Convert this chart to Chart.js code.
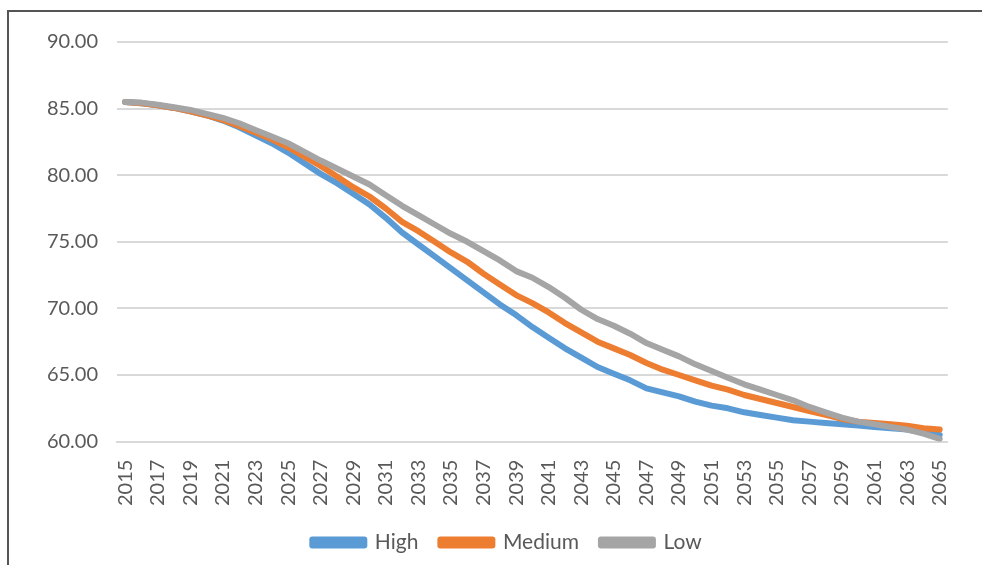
<!DOCTYPE html>
<html>
<head>
<meta charset="utf-8">
<script src="https://cdn.jsdelivr.net/npm/chart.js@4.4.1/dist/chart.umd.min.js"></script>
<style>
  body { margin: 0; background: #fff; }
  #frame { position: absolute; left: 7px; top: 10px; width: 1000px; height: 600px; border: 2px solid #555; }
  #wrap { position: absolute; left: 0; top: 0; width: 982px; height: 565px; }
</style>
</head>
<body>
<div id="frame"></div>
<div id="wrap"><canvas id="myChart"></canvas></div>
<script>
var years = ["2015", "2016", "2017", "2018", "2019", "2020", "2021", "2022", "2023", "2024",
    "2025", "2026", "2027", "2028", "2029", "2030", "2031", "2032", "2033", "2034",
    "2035", "2036", "2037", "2038", "2039", "2040", "2041", "2042", "2043", "2044",
    "2045", "2046", "2047", "2048", "2049", "2050", "2051", "2052", "2053", "2054",
    "2055", "2056", "2057", "2058", "2059", "2060", "2061", "2062", "2063", "2064", "2065"];

var highValues = [85.5, 85.4, 85.25, 85.05, 84.8, 84.5, 84.1, 83.6, 83.0, 82.4,
    81.7, 80.9, 80.1, 79.4, 78.6, 77.8, 76.8, 75.7, 74.8, 73.9,
    73.0, 72.1, 71.2, 70.3, 69.5, 68.6, 67.8, 67.0, 66.3, 65.6,
    65.1, 64.6, 64.0, 63.7, 63.4, 63.0, 62.7, 62.5, 62.2, 62.0,
    61.8, 61.6, 61.5, 61.4, 61.3, 61.2, 61.1, 61.0, 60.9, 60.7, 60.5];

var mediumValues = [85.5, 85.4, 85.25, 85.05, 84.8, 84.5, 84.15, 83.7, 83.2, 82.7,
    82.1, 81.4, 80.7, 79.9, 79.1, 78.4, 77.5, 76.5, 75.8, 75.0,
    74.2, 73.5, 72.6, 71.8, 71.0, 70.4, 69.7, 68.9, 68.2, 67.5,
    67.0, 66.5, 65.9, 65.4, 65.0, 64.6, 64.2, 63.9, 63.5, 63.2,
    62.9, 62.6, 62.3, 62.0, 61.7, 61.5, 61.4, 61.3, 61.2, 61.0, 60.9];

var lowValues = [85.5, 85.45, 85.3, 85.1, 84.9, 84.6, 84.3, 83.9, 83.4, 82.9,
    82.4, 81.75, 81.1, 80.5, 79.9, 79.3, 78.5, 77.7, 77.0, 76.3,
    75.6, 75.0, 74.3, 73.6, 72.8, 72.3, 71.6, 70.8, 69.9, 69.2,
    68.7, 68.1, 67.4, 66.9, 66.4, 65.8, 65.3, 64.8, 64.3, 63.9,
    63.5, 63.1, 62.6, 62.2, 61.8, 61.5, 61.3, 61.1, 60.9, 60.6, 60.2];

var seriesNames = ["High", "Medium", "Low"];
var seriesColors = ["#5b9bd5", "#ed7d31", "#a5a5a5"];

var yMin = 60, yMax = 90, yStep = 5;

function makeDataset(i, values) {
    return {
        label: seriesNames[i],
        data: values,
        borderColor: seriesColors[i],
        backgroundColor: seriesColors[i],
        borderWidth: 6,
        borderCapStyle: "round",
        borderJoinStyle: "round",
        pointRadius: 0,
        tension: 0,
        fill: false,
        order: 3 - i
    };
}

// nudge the legend right so it sits where the original one is
var legendShift = {
    id: "legendShift",
    afterLayout: function (chart) {
        chart.legend.left += 32;
        chart.legend.right += 32;
    }
};

new Chart("myChart", {
    type: "line",
    data: {
        labels: years,
        datasets: [
            makeDataset(0, highValues),
            makeDataset(1, mediumValues),
            makeDataset(2, lowValues)
        ]
    },
    plugins: [legendShift],
    options: {
        responsive: true,
        maintainAspectRatio: false,
        animation: false,
        layout: { padding: { top: 42, right: 32, bottom: 2, left: 0 } },
        plugins: {
            tooltip: { enabled: false },
            legend: {
                position: "bottom",
                labels: {
                    boxWidth: 52,
                    boxHeight: 6,
                    padding: 22,
                    color: "#595959",
                    font: { family: "Lato", size: 21 },
                    sort: function (a, b) { return a.datasetIndex - b.datasetIndex; }
                }
            }
        },
        scales: {
            x: {
                offset: true,
                grid: { display: false, drawTicks: false },
                border: { display: true, color: "#d9d9d9", width: 2 },
                afterFit: function (scale) { scale.height = scale.height - 14; },
                ticks: {
                    autoSkip: false,
                    maxRotation: 90,
                    minRotation: 90,
                    padding: 18,
                    color: "#595959",
                    font: { family: "Lato", size: 20 },
                    callback: function (value, index) {
                        return index % 2 === 0 ? years[index] : "";
                    }
                }
            },
            y: {
                min: yMin,
                max: yMax,
                grid: { color: "#d9d9d9", lineWidth: 2, drawTicks: false },
                border: { display: false },
                afterFit: function (scale) { scale.width = 117; },
                ticks: {
                    stepSize: yStep,
                    padding: 19,
                    color: "#595959",
                    font: { family: "Lato", size: 20 },
                    callback: function (value) { return value.toFixed(2); }
                }
            }
        }
    }
});
</script>
</body>
</html>
